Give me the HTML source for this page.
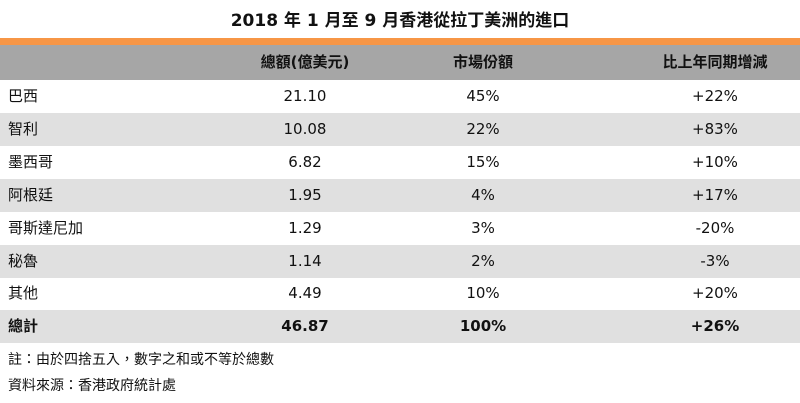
<!DOCTYPE html>
<html><head><meta charset="utf-8"><style>
body{margin:0;width:800px;height:403px;background:#fff;font-family:"DejaVu Sans","Noto Sans CJK TC",sans-serif;position:relative;overflow:hidden;color:#111}
.title{position:absolute;top:6px;left:0;width:800px;text-align:center;font-size:17px;font-weight:bold}
.orange{position:absolute;top:38px;left:0;width:800px;height:7px;background:#f79646}
.row{position:absolute;left:0;width:800px;height:33px;font-size:15px;line-height:33px}
.row div{position:absolute;top:0}
.c0{left:8px}
.c1{left:205px;width:200px;text-align:center}
.c2{left:383px;width:200px;text-align:center}
.c3{left:615px;width:200px;text-align:center}
.hdr{background:#a6a6a6;height:35px;line-height:35px;font-weight:bold}
.g{background:#e0e0e0}
.b{font-weight:bold}
.note{position:absolute;left:8px;font-size:14px}
</style></head><body>
<div class="title">2018 年 1 月至 9 月香港從拉丁美洲的進口</div>
<div class="orange"></div>
<div id="tbl">
<div class="row hdr" style="top:45px">
<div class="c1">總額(億美元)</div>
<div class="c2">市場份額</div>
<div class="c3">比上年同期增減</div>
</div>
</div>
<div class="note" style="top:349px">註：由於四捨五入，數字之和或不等於總數</div>
<div class="note" style="top:375px">資料來源：香港政府統計處</div>
<script>
const countries=["巴西","智利","墨西哥","阿根廷","哥斯達尼加","秘魯","其他","總計"];
const totals=["21.10","10.08","6.82","1.95","1.29","1.14","4.49","46.87"];
const shares=["45%","22%","15%","4%","3%","2%","10%","100%"];
const growth=["+22%","+83%","+10%","+17%","-20%","-3%","+20%","+26%"];
const tbl=document.getElementById('tbl');
countries.forEach((c,i)=>{
const r=document.createElement('div');
r.className='row'+(i%2?' g':'')+(i===7?' b':'');
r.style.top=(80+i*32.9)+'px';


[c,totals[i],shares[i],growth[i]].forEach((t,j)=>{
const d=document.createElement('div');d.className='c'+j;d.textContent=t;


r.appendChild(d);});
tbl.appendChild(r);});
</script>
</body></html>
